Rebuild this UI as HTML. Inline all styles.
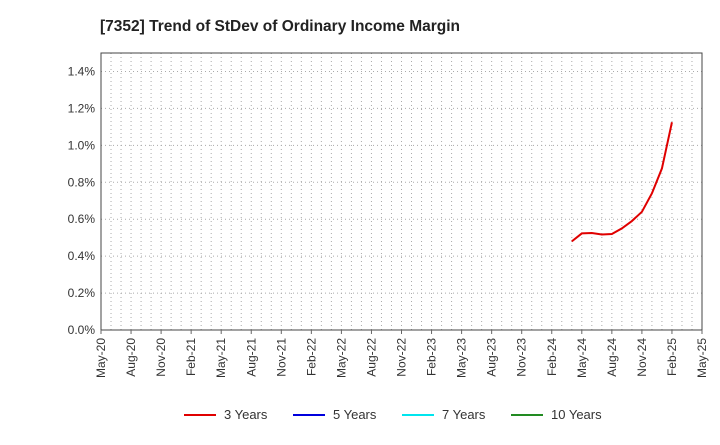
<!DOCTYPE html>
<html><head><meta charset="utf-8"><style>
body{margin:0;background:#fff;font-family:"Liberation Sans",sans-serif}
</style></head><body>
<svg id="c" width="720" height="440" xmlns="http://www.w3.org/2000/svg">
<text x="100" y="31" font-size="15.5" font-weight="bold" fill="#222">[7352]  Trend of StDev of Ordinary Income Margin</text>
</svg>
<script>
const xLabels=["May-20","Aug-20","Nov-20","Feb-21","May-21","Aug-21","Nov-21","Feb-22","May-22","Aug-22","Nov-22","Feb-23","May-23","Aug-23","Nov-23","Feb-24","May-24","Aug-24","Nov-24","Feb-25","May-25"];
const yTicks=[0,0.2,0.4,0.6,0.8,1.0,1.2,1.4];
// months since May-20
const months3=[47,48,49,50,51,52,53,54,55,56,57];
const values3=[0.48,0.523,0.525,0.517,0.52,0.55,0.59,0.64,0.74,0.875,1.125];
const L=101,R=702,T=53,B=330,YMAX=1.5,NM=60;
const xs=m=>L+(R-L)*m/NM, ys=v=>B-(B-T)*v/YMAX;
const svg=document.getElementById('c'),NS="http://www.w3.org/2000/svg";
function el(t,a,p){const e=document.createElementNS(NS,t);for(const k in a)e.setAttribute(k,a[k]);(p||svg).appendChild(e);return e;}
const g=el('g',{});


for(let m=1;m<NM;m++){el('line',{x1:xs(m),x2:xs(m),y1:T,y2:B,stroke:'#aaa','stroke-dasharray':'1,3','stroke-width':1},g);}
yTicks.forEach(v=>{if(v>0)el('line',{x1:L,x2:R,y1:ys(v),y2:ys(v),stroke:'#aaa','stroke-dasharray':'1,3','stroke-width':1},g);
 const t=el('text',{x:L-6,y:ys(v)+4,'text-anchor':'end','font-size':12,fill:'#333'});t.textContent=v.toFixed(1)+'%';
 
 });
const f=el('rect',{x:L,y:T,width:R-L,height:B-T,fill:'none',stroke:'#444'});


xLabels.forEach((s,i)=>{const x=xs(i*3);el('line',{x1:x,x2:x,y1:B,y2:B+4,stroke:'#666'});
 const t=el('text',{x:0,y:0,'text-anchor':'end','font-size':12,fill:'#333',transform:`translate(${x+4},${B+8}) rotate(-90)`});t.textContent=s;
 
 });
const p=el('polyline',{points:months3.map((m,i)=>xs(m)+','+ys(values3[i])).join(' '),fill:'none',stroke:'#e00000','stroke-width':2});


const leg=[["3 Years","#e00000",184],["5 Years","#0000dd",293],["7 Years","#00e5ee",402],["10 Years","#228b22",511]];
leg.forEach(([n,c,x])=>{const lg=el('g',{});
 
 
 el('line',{x1:x,x2:x+32,y1:415,y2:415,stroke:c,'stroke-width':2},lg);
 const t=el('text',{x:x+40,y:419,'font-size':13,fill:'#333'},lg);t.textContent=n;});
</script>
</body></html>
